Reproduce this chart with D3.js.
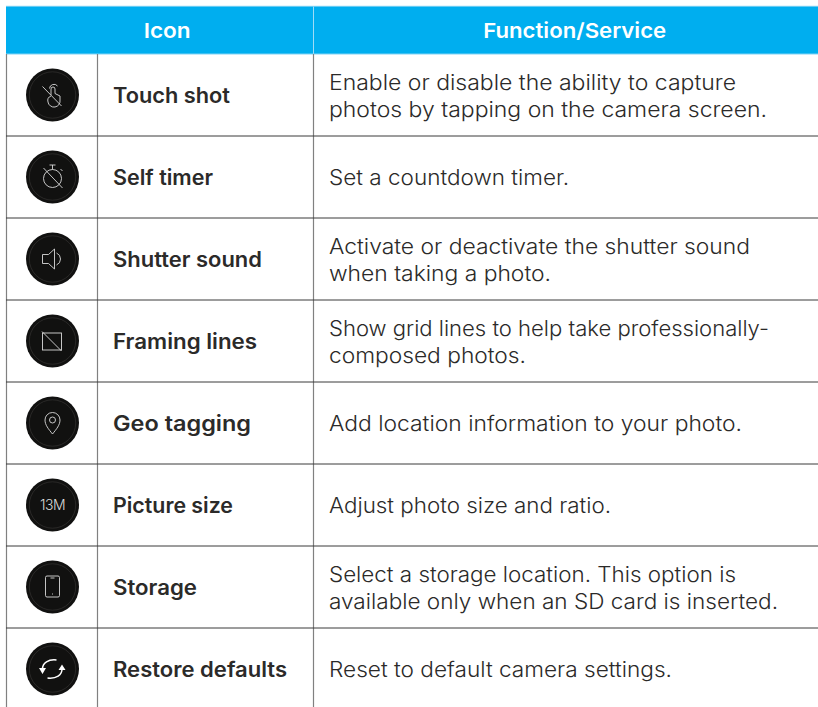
<!DOCTYPE html>
<html><head><meta charset="utf-8">
<script src="https://cdn.jsdelivr.net/npm/d3@7"></script>
<style>html,body{margin:0;padding:0;background:#fff}svg{display:block}text{font-family:"Inter",sans-serif}</style>
</head><body><div id="c"></div>
<script>
const headers=["Icon","Function/Service"];
const names=["Touch shot","Self timer","Shutter sound","Framing lines","Geo tagging","Picture size","Storage","Restore defaults"];
const descriptions=[
["Enable or disable the ability to capture","photos by tapping on the camera screen."],
["Set a countdown timer."],
["Activate or deactivate the shutter sound","when taking a photo."],
["Show grid lines to help take professionally-","composed photos."],
["Add location information to your photo."],
["Adjust photo size and ratio."],
["Select a storage location. This option is","available only when an SD card is inserted."],
["Reset to default camera settings."]];
const iconKeys=["touch","timer","sound","frame","geo","size","phone","restore"];
// widths of the set text in the reference's typeface, used to fit the substitute font
const headerFit=[47,183];
const nameFit=[117,100,149,144,138,120,84,174];
const descFit=[[407,438],[240],[421,222],[440,197],[413],[282],[407,449],[343]];
const W=818,H=707;
const svg=d3.select("#c").append("svg").attr("width",W).attr("height",H);
const y=d3.scaleBand().domain(names).range([54,710]);
const x0=6.5,x1=97.5,x2=313.5;
svg.append("rect").attr("x",6).attr("y",6).attr("width",W-6).attr("height",48).attr("fill","#00aeef");
svg.append("line").attr("x1",x2).attr("x2",x2).attr("y1",6).attr("y2",54).attr("stroke","#9fdcf6").attr("stroke-width",1);
svg.selectAll(".hl").data([6.3,54]).join("line").attr("class","hl").attr("x1",6).attr("x2",W).attr("y1",d=>d).attr("y2",d=>d).attr("stroke","#7fd3f5").attr("stroke-width",1);
svg.selectAll(".h").data(headers).join("text").attr("class","h")
 .attr("x",(d,i)=>i?574.7:167.2).attr("y",38).attr("text-anchor","middle")
 .attr("fill","#fff").attr("font-weight",600).attr("font-size",20.5)
 .attr("textLength",(d,i)=>headerFit[i]).attr("lengthAdjust","spacingAndGlyphs").text(d=>d);
[x0,x1,x2].forEach(x=>svg.append("line").attr("x1",x).attr("x2",x).attr("y1",54).attr("y2",H).attr("stroke","#808080").attr("stroke-width",1.2));
svg.selectAll(".rl").data(names.slice(1)).join("line").attr("class","rl")
 .attr("x1",6).attr("x2",W).attr("y1",d=>y(d)).attr("y2",d=>y(d)).attr("stroke","#3a3a3a").attr("stroke-width",1);
const g=svg.selectAll(".row").data(names).join("g").attr("class","row");
const cy=d=>y(d)+y.bandwidth()/2;
g.append("text").attr("x",113).attr("y",d=>cy(d)+8.3).attr("font-size",21).attr("font-weight",600).attr("fill","#2b2a29")
 .attr("textLength",(d,i)=>nameFit[i]).attr("lengthAdjust","spacingAndGlyphs").text(d=>d);
g.each(function(d,i){
  const lines=descriptions[i],n=lines.length;
  d3.select(this).selectAll(".desc").data(lines).join("text").attr("class","desc")
   .attr("x",329).attr("y",(l,j)=>cy(d)+8.3+(j-(n-1)/2)*27.3)
   .attr("font-size",21).attr("font-weight",300).attr("fill","#2b2a29")
   .attr("textLength",(l,j)=>descFit[i][j]).attr("lengthAdjust","spacingAndGlyphs").text(l=>l);
});
const icons={
 touch:s=>{s.append("path").attr("d","M-10 -8.500L9 11M-3 -6.500a4.500 4.500 0 0 1 8 -2.500M-1.500 0V-6a2 2 0 0 1 4 0V-1.500L7.500 1V5a6 6 0 0 1 -12 2a5 5 0 0 1 3 -6");},
 timer:s=>{s.append("circle").attr("cy",1.5).attr("r",9);s.append("path").attr("d","M-3 -12H3M0 -12V-7.500M-9 -9L10 11M8 -8L10 -6");},
 sound:s=>{s.append("path").attr("d","M-10 -4.500H-4L2 -10V10L-4 4.500H-10ZM4 -6a6.500 6.500 0 0 1 0 12");},
 frame:s=>{s.append("rect").attr("x",-10).attr("y",-8).attr("width",19).attr("height",17);s.append("path").attr("d","M-10.500 -9.500L9 10");},
 geo:s=>{s.append("path").attr("d","M0 11C-4 6 -7.500 2 -7.500 -3A7.500 7.500 0 0 1 7.500 -3C7.500 2 4 6 0 11Z");s.append("circle").attr("cy",-3).attr("r",3);},
 size:s=>{s.append("text").attr("text-anchor","middle").attr("y",5).attr("font-size",14).attr("font-weight",300).attr("fill","#d9d9d9").attr("stroke","none").attr("letter-spacing",-0.5).text("13M");},
 phone:s=>{s.append("rect").attr("x",-7).attr("y",-11).attr("width",14).attr("height",21).attr("rx",1.5);s.append("path").attr("d","M-2 -9H2M-.5 7H.5");},
 restore:s=>{s.attr("stroke-width",1.5).attr("stroke","#fff");s.append("path").attr("d","M-10 0C-10 -6 -4 -10 4 -9M9.500 0C9.500 6 4 10 -5 9");s.append("path").attr("fill","#fff").attr("stroke","none").attr("d","M-13.500 -1H-6.500L-10 5ZM13 1H6L9.500 -4.500Z");}
};
g.each(function(d,i){
  const s=d3.select(this).append("g").attr("transform",`translate(52.5,${cy(d)})`);
  s.append("circle").attr("r",26.5).attr("fill","#111110");
  s.append("circle").attr("r",23.2).attr("fill","none").attr("stroke","#333231").attr("stroke-width",.7);
  const ic=s.append("g").attr("fill","none").attr("stroke","#d9d9d9").attr("stroke-width",.9);
  icons[iconKeys[i]](ic);
});
</script></body></html>
